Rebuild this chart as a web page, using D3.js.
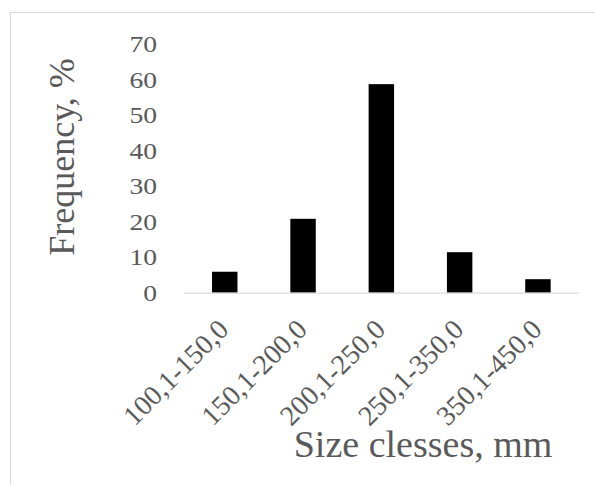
<!DOCTYPE html>
<html>
<head>
<meta charset="utf-8">
<script src="https://cdn.jsdelivr.net/npm/d3@7"></script>
<style>
  html, body { margin: 0; padding: 0; background: #fff; }
  svg { display: block; }
</style>
</head>
<body>
<svg id="chart" width="595" height="485"></svg>
<script>
const categories = ["100,1-150,0", "150,1-200,0", "200,1-250,0", "250,1-350,0", "350,1-450,0"];
const frequency = [5.9, 20.8, 58.7, 11.4, 3.8];
const yTicks = [0, 10, 20, 30, 40, 50, 60, 70];
const xTitle = "Size clesses, mm";
const yTitle = "Frequency, %";

const svg = d3.select("#chart");
const font = "'Liberation Serif', 'Times New Roman', serif";
const textColor = "#595959";

// outer frame
svg.append("rect")
  .attr("x", 10.5).attr("y", 12.5)
  .attr("width", 700).attr("height", 600)
  .attr("fill", "none").attr("stroke", "#d9d9d9").attr("stroke-width", 1);

const x = d3.scaleBand()
  .domain(categories)
  .range([184, 578.7])
  .paddingInner(0.675)
  .paddingOuter(0.358);

const y = d3.scaleLinear()
  .domain([0, 70])
  .range([292.7, 44]);

// bars
svg.append("g").selectAll("rect")
  .data(categories)
  .join("rect")
  .attr("x", d => x(d))
  .attr("width", x.bandwidth())
  .attr("y", (d, i) => y(frequency[i]))
  .attr("height", (d, i) => y(0) - y(frequency[i]))
  .attr("fill", "#000");

// x axis
const xAxis = svg.append("g")
  .attr("transform", `translate(0,${y(0)})`)
  .call(d3.axisBottom(x).tickSize(0).tickSizeOuter(0).tickFormat(""));
xAxis.select(".domain").attr("stroke", "#d9d9d9").attr("stroke-width", 1.2);

// category labels
svg.append("g").selectAll("text")
  .data(categories)
  .join("text")
  .attr("transform", d => `translate(${x(d) + x.bandwidth() / 2 + 5.5},${y(0) + 38.5}) rotate(-45)`)
  .attr("text-anchor", "end")
  .attr("font-family", font)
  .attr("font-size", 28)
  .attr("fill", textColor)
  .text(d => d);

// y axis
const yAxis = svg.append("g")
  .attr("transform", `translate(184,0)`)
  .call(d3.axisLeft(y).tickValues(yTicks).tickSize(0).tickPadding(27));
yAxis.select(".domain").remove();
yAxis.selectAll("text")
  .attr("x", 0)
  .attr("transform", "translate(-27,0) scale(1.15,1)")
  .attr("font-family", font)
  .attr("font-size", 24)
  .attr("fill", textColor);

// titles
svg.append("text")
  .attr("x", 423).attr("y", 457)
  .attr("text-anchor", "middle")
  .attr("font-family", font)
  .attr("font-size", 38)
  .attr("fill", textColor)
  .text(xTitle);

svg.append("text")
  .attr("transform", `translate(74,157) rotate(-90)`)
  .attr("text-anchor", "middle")
  .attr("font-family", font)
  .attr("font-size", 36)
  .attr("fill", textColor)
  .text(yTitle);
</script>
</body>
</html>
